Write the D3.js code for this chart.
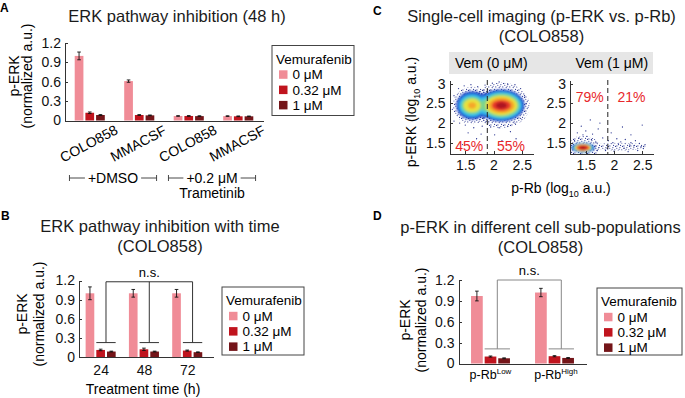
<!DOCTYPE html>
<html lang="en">
<head>
<meta charset="utf-8" />
<title>ERK pathway inhibition</title>
<style>
  body { margin: 0; background: #fff; }
  svg { font-family: "Liberation Sans", Arial, sans-serif; }
  .axis path, .axis line { fill: none; stroke: #333; shape-rendering: crispEdges; }
  .axis text { font-size: 14px; fill: #111; font-family: "Liberation Sans", Arial, sans-serif; }
</style>
</head>
<body>
<div id="chart"></div>
<script src="https://d3js.org/d3.v7.min.js"></script>
<script>
// shared
var doses = ["0 μM", "0.32 μM", "1 μM"];
var doseColors = ["#f08c97", "#c0141e", "#741519"];
var yTicks = [0, 0.3, 0.6, 0.9, 1.2];

// panel A (48 h)
var cellLines = ["COLO858", "MMACSF", "COLO858", "MMACSF"];
var meanA = [[1.0, 0.12, 0.085], [0.61, 0.085, 0.08], [0.07, 0.07, 0.068], [0.068, 0.065, 0.065]];
var errA = [[0.06, 0.012, 0.006], [0.018, 0.006, 0.005], [0.005, 0.006, 0.005], [0.005, 0.005, 0.004]];
var treatLabels = ["+DMSO", "+0.2 μM"];
var treatSub = ["", "Trametinib"];

// panel B (time course)
var timesB = ["24", "48", "72"];
var meanB = [[1.0, 0.115, 0.09], [1.0, 0.125, 0.09], [1.0, 0.105, 0.08]];
var errB = [[0.1, 0.012, 0.006], [0.06, 0.018, 0.006], [0.06, 0.008, 0.005]];

// panel D (sub-populations)
var popsD = ["Low", "High"];
var meanD = [[0.97, 0.1, 0.075], [1.02, 0.105, 0.08]];
var errD = [[0.07, 0.008, 0.006], [0.06, 0.008, 0.006]];

// panel C (single cell, log10 units)
var vemPanels = ["Vem (0 μM)", "Vem (1 μM)"];
var cTicks = [1.5, 2, 2.5];
var cYTicks = [1.5, 2, 2.5, 3];
var rbCut = 1.89;
var pctLow = ["45%", "79%"];
var pctHigh = ["55%", "21%"];
// density contours: centre and radii from outer (sparse) to inner (densest)
var densityVem0 = [
  { cx: 1.62, cy: 2.45, rx: [0.34, 0.28, 0.25, 0.22, 0.19, 0.15, 0.07], ry: [0.48, 0.36, 0.31, 0.27, 0.22, 0.17, 0.08] },
  { cx: 1.88, cy: 2.45, rx: [0.3, 0.26, 0.22, 0.18, 0.13], ry: [0.42, 0.32, 0.27, 0.22, 0.15] },
  { cx: 2.14, cy: 2.45, rx: [0.5, 0.41, 0.38, 0.35, 0.32, 0.28, 0.23, 0.17, 0.1], ry: [0.58, 0.41, 0.37, 0.34, 0.3, 0.25, 0.2, 0.14, 0.08] }
];
var densityVem1 = [
  { cx: 2.1, cy: 1.4, rx: [0.47], ry: [0.1] },
  { cx: 1.45, cy: 1.37, rx: [0.3, 0.21, 0.19, 0.17, 0.155, 0.14, 0.125, 0.105, 0.06], ry: [0.3, 0.13, 0.12, 0.11, 0.1, 0.09, 0.08, 0.068, 0.04] }
];
var dotsVem0 = [[1.3, 2.05], [1.27, 2.35], [1.3, 2.7], [1.38, 2.88], [1.48, 2.95], [1.6, 2.98], [1.72, 2.93], [1.85, 2.97],
  [1.98, 3.02], [2.1, 3.05], [2.25, 3.0], [2.38, 2.98], [2.48, 2.88], [2.55, 2.7], [2.58, 2.5], [2.55, 2.3], [2.48, 2.12],
  [2.38, 2.0], [2.25, 1.92], [2.1, 1.88], [1.95, 1.9], [1.8, 1.92], [1.65, 1.88], [1.5, 1.95], [1.4, 2.0], [1.55, 1.75],
  [1.78, 1.72], [2.02, 1.7], [2.3, 1.78], [1.7, 1.6], [2.15, 1.55], [1.45, 1.45], [2.4, 1.6], [1.9, 2.0]];
var dotsVem1 = [[1.3, 1.55], [1.38, 1.62], [1.45, 1.7], [1.52, 1.66], [1.6, 1.58], [1.35, 1.75], [1.5, 1.8], [1.42, 1.92],
  [1.62, 1.72], [1.28, 1.45], [1.68, 1.5], [1.58, 2.08], [1.72, 1.85], [1.8, 1.62], [1.9, 1.55], [1.98, 1.5], [2.05, 1.6],
  [2.12, 1.52], [2.2, 1.58], [2.3, 1.5], [2.38, 1.55], [2.45, 1.48], [2.52, 1.35], [2.55, 1.45], [1.85, 1.3], [2.0, 1.28],
  [2.25, 1.27], [2.42, 1.3], [1.95, 1.75], [2.3, 1.7], [2.5, 1.95], [2.15, 1.9], [1.75, 2.0], [1.88, 1.35], [2.35, 1.42],
  [2.48, 1.4], [1.7, 1.3], [2.08, 1.45], [2.18, 1.36], [2.28, 1.44]];

var jet = ["#28338f", "#2344c6", "#2b86e3", "#37c2e8", "#7bd58e", "#e9e23c", "#f5a72b", "#e83a2a", "#ad1622"];

var svg = d3.select("#chart").append("svg").attr("width", 685).attr("height", 398);
var fmt = d3.format("~g");
var defs = svg.append("defs");

function letter(t, x, y) {
    svg.append("text").attr("x", x).attr("y", y).text(t)
       .style("font-weight", "bold").style("font-size", "12px");
}

function titleLines(lines, cx, y0) {
    lines.forEach(function (s, i) {
        svg.append("text").attr("x", cx).attr("y", y0 + i * 20).text(s)
           .style("text-anchor", "middle").style("font-size", "16.5px").style("fill", "#1a1a1a");
    });
}

function yLabel(x1, x2, cy) {
    svg.append("text").attr("transform", "translate(" + x1 + "," + cy + ") rotate(-90)")
       .attr("dy", "0.35em").style("text-anchor", "middle").style("font-size", "14px").text("p-ERK");
    svg.append("text").attr("transform", "translate(" + x2 + "," + cy + ") rotate(-90)")
       .attr("dy", "0.35em").style("text-anchor", "middle").style("font-size", "14px").text("(normalized a.u.)");
}

function legend(x, y, w, h) {
    var g = svg.append("g").attr("transform", "translate(" + x + "," + y + ")");
    g.append("rect").attr("width", w).attr("height", h).style("fill", "#fff").style("stroke", "#444");
    g.append("text").attr("x", 4).attr("y", 13.5).attr("dy", "0.35em").text("Vemurafenib").style("font-size", "13.5px");
    doses.forEach(function (d, j) {
        g.append("rect").attr("x", 7).attr("y", 29 + j * 15.3 - 4.2).attr("width", 8.5).attr("height", 8.5)
         .style("fill", doseColors[j]);
        g.append("text").attr("x", 20.5).attr("y", 29 + j * 15.3).attr("dy", "0.35em").text(d).style("font-size", "13.5px");
    });
}

function barPanel(cfg) {
    var x = d3.scaleLinear().domain(cfg.xDomain).range(cfg.xRange);
    var y = d3.scaleLinear().domain([0, 1.2]).range(cfg.yRange);
    var g = svg.append("g");
    var bwPx = x(cfg.bw) - x(0);
    cfg.means.forEach(function (row, i) {
        var items = row.map(function (v, j) { return { v: v, e: cfg.errs[i][j], c: i + 1 + (j - 1) * cfg.off, j: j }; });
        var gi = g.append("g");
        gi.selectAll("rect").data(items).enter().append("rect")
          .attr("x", function (d) { return x(d.c) - bwPx / 2; })
          .attr("width", bwPx)
          .attr("y", function (d) { return y(d.v); })
          .attr("height", function (d) { return y(0) - y(d.v); })
          .style("fill", function (d) { return doseColors[d.j]; });
        var eb = gi.selectAll("g.err").data(items).enter().append("g").attr("class", "err")
          .style("stroke", "#111").style("stroke-width", 0.9);
        eb.append("line").attr("x1", function (d) { return x(d.c); }).attr("x2", function (d) { return x(d.c); })
          .attr("y1", function (d) { return y(d.v - d.e); }).attr("y2", function (d) { return y(d.v + d.e); });
        [-1, 1].forEach(function (s) {
            eb.append("line").attr("x1", function (d) { return x(d.c) - 1.8; }).attr("x2", function (d) { return x(d.c) + 1.8; })
              .attr("y1", function (d) { return y(d.v + s * d.e); }).attr("y2", function (d) { return y(d.v + s * d.e); });
        });
    });
    g.append("g").attr("class", "axis").attr("transform", "translate(" + cfg.xRange[0] + ",0)")
     .call(d3.axisLeft(y).tickValues(yTicks).tickFormat(fmt).tickSizeInner(-3).tickSizeOuter(0).tickPadding(4));
    var xa = d3.axisBottom(x).tickSize(0).tickPadding(8);
    if (cfg.xLabels) {
        xa.tickValues(cfg.xLabels.map(function (d, i) { return i + 1; })).tickFormat(function (d) { return cfg.xLabels[d - 1]; });
    } else {
        xa.tickValues([]);
    }
    g.append("g").attr("class", "axis").attr("transform", "translate(0," + cfg.yRange[0] + ")").call(xa);
    return { x: x, y: y, g: g };
}

function nsBracket(p, n, top, stub, off, bw, color) {
    var g = p.g.append("g").style("stroke", color).style("stroke-width", 1).style("fill", "none");
    var pairs = d3.range(1, n + 1).map(function (i) { return i + off / 2; });
    pairs.forEach(function (c) {
        g.append("line").attr("x1", p.x(c - off / 2 - bw / 2)).attr("x2", p.x(c + off / 2 + bw / 2))
         .attr("y1", p.y(stub)).attr("y2", p.y(stub));
        g.append("line").attr("x1", p.x(c)).attr("x2", p.x(c)).attr("y1", p.y(stub)).attr("y2", p.y(top));
    });
    g.append("line").attr("x1", p.x(pairs[0])).attr("x2", p.x(pairs[pairs.length - 1]))
     .attr("y1", p.y(top)).attr("y2", p.y(top));
    p.g.append("text").attr("x", p.x((pairs[0] + pairs[pairs.length - 1]) / 2)).attr("y", p.y(top) - 5)
     .style("text-anchor", "middle").style("font-size", "13px").text("n.s.");
}

// ---------- A ----------
letter("A", 0, 12);
titleLines(["ERK pathway inhibition (48 h)"], 177, 22);
var pA = barPanel({ means: meanA, errs: errA, xDomain: [0.5, 4.5], xRange: [65, 263], yRange: [120.5, 43], off: 0.216, bw: 0.176 });
yLabel(14, 27, 76);
cellLines.forEach(function (d, i) {
    pA.g.append("text").attr("transform", "translate(" + (pA.x(i + 1) - 1) + ",143.5) rotate(-28)")
      .attr("dy", "0.35em").style("text-anchor", "middle").style("font-size", "14px").text(d);
});
treatLabels.forEach(function (d, k) {
    var x1 = pA.x(2 * k + 1 - 0.41), x2 = pA.x(2 * k + 2 + 0.35), yy = 178;
    var t = pA.g.append("text").attr("x", (x1 + x2) / 2).attr("y", yy).attr("dy", "0.35em")
      .style("text-anchor", "middle").style("font-size", "14px").text(d);
    var tw = t.node().getComputedTextLength();
    var lg = pA.g.append("g").style("stroke", "#333").style("stroke-width", 0.9);
    lg.append("line").attr("x1", x1).attr("x2", (x1 + x2) / 2 - tw / 2 - 3).attr("y1", yy).attr("y2", yy);
    lg.append("line").attr("x1", (x1 + x2) / 2 + tw / 2 + 3).attr("x2", x2).attr("y1", yy).attr("y2", yy);
    lg.append("line").attr("x1", x1).attr("x2", x1).attr("y1", yy - 3).attr("y2", yy + 3);
    lg.append("line").attr("x1", x2).attr("x2", x2).attr("y1", yy - 3).attr("y2", yy + 3);
    if (treatSub[k]) {
        pA.g.append("text").attr("x", (x1 + x2) / 2).attr("y", yy + 15).attr("dy", "0.35em")
          .style("text-anchor", "middle").style("font-size", "14px").text(treatSub[k]);
    }
});
legend(272, 45.5, 82, 70);

// ---------- B ----------
letter("B", 1, 220);
titleLines(["ERK pathway inhibition with time", "(COLO858)"], 160, 232);
var pB = barPanel({ means: meanB, errs: errB, xDomain: [0.5, 3.6], xRange: [79, 213.2], yRange: [357.3, 280.5],
                    off: 0.247, bw: 0.2, xLabels: timesB });
nsBracket(pB, 3, 1.18, 0.23, 0.247, 0.2, "#333");
yLabel(22, 39, 314);
svg.append("text").attr("x", 143).attr("y", 389).attr("dy", "0.35em").style("text-anchor", "middle")
   .style("font-size", "14px").text("Treatment time (h)");
legend(222, 287, 82, 68);

// ---------- D ----------
letter("D", 373, 220);
titleLines(["p-ERK in different cell sub-populations", "(COLO858)"], 540.5, 233);
var pD = barPanel({ means: meanD, errs: errD, xDomain: [0.5, 2.5], xRange: [458.5, 586.5], yRange: [363.5, 280],
                    off: 0.2125, bw: 0.183 });
nsBracket(pD, 2, 1.2, 0.21, 0.2125, 0.183, "#888");
yLabel(405, 421.5, 320);
popsD.forEach(function (d, i) {
    var t = pD.g.append("text").attr("x", pD.x(i + 1) + (i ? 1.5 : 0)).attr("y", 379).style("text-anchor", "middle")
      .style("font-size", "12.5px");
    t.append("tspan").text("p-Rb");
    t.append("tspan").attr("dy", -5).style("font-size", "8px").text(d);
});
legend(597, 288, 85, 67);

// ---------- C ----------
letter("C", 373, 15);
titleLines(["Single-cell imaging (p-ERK vs. p-Rb)", "(COLO858)"], 541.5, 22);
var cy = d3.scaleLinear().domain([1.21, 3.1]).range([154, 80]);
svg.append("rect").attr("x", 449).attr("y", 52).attr("width", 204).attr("height", 22).style("fill", "#e6e6e6");
defs.append("filter").attr("id", "soft").attr("x", "-20%").attr("y", "-20%").attr("width", "140%").attr("height", "140%")
    .append("feGaussianBlur").attr("stdDeviation", 1.1);
// sparse-cell speckle texture for the outer density level
var sp = defs.append("pattern").attr("id", "speckle").attr("patternUnits", "userSpaceOnUse").attr("width", 7).attr("height", 7);
[[0.8, 1.2], [3.9, 0.6], [5.8, 2.9], [2.2, 3.6], [4.6, 5.4], [0.9, 5.9], [6.5, 6.4], [3.1, 2.2]].forEach(function (d) {
    sp.append("circle").attr("cx", d[0]).attr("cy", d[1]).attr("r", 0.55).style("fill", jet[0]);
});

[densityVem0, densityVem1].forEach(function (dens, p) {
    var left = p ? 570 : 449.5;
    var cx = d3.scaleLinear().domain([1.22, 2.7]).range([left, left + 83.5]);
    var dots = p ? dotsVem1 : dotsVem0;
    defs.append("clipPath").attr("id", "clip" + p).append("rect")
        .attr("x", left).attr("y", 80).attr("width", 83.5).attr("height", 74);
    var g = svg.append("g").attr("clip-path", "url(#clip" + p + ")");
    dens.forEach(function (c) {
        g.append("ellipse").attr("cx", cx(c.cx)).attr("cy", cy(c.cy))
         .attr("rx", cx(c.cx + c.rx[0]) - cx(c.cx)).attr("ry", cy(c.cy) - cy(c.cy + c.ry[0]))
         .style("fill", "url(#speckle)");
    });
    g.selectAll("circle").data(dots).enter().append("circle")
     .attr("cx", function (d) { return cx(d[0]); }).attr("cy", function (d) { return cy(d[1]); })
     .attr("r", 0.65).style("fill", jet[0]);
    var dg = g.append("g").attr("filter", "url(#soft)");
    for (var k = 1; k < jet.length; k++) {
        dens.forEach(function (c) {
            if (k < c.rx.length) {
                dg.append("ellipse").attr("cx", cx(c.cx)).attr("cy", cy(c.cy))
                  .attr("rx", cx(c.cx + c.rx[k]) - cx(c.cx)).attr("ry", cy(c.cy) - cy(c.cy + c.ry[k]))
                  .style("fill", jet[k]);
            }
        });
    }
    svg.append("line").attr("x1", cx(rbCut)).attr("x2", cx(rbCut)).attr("y1", cy(3.1)).attr("y2", cy(1.21))
       .style("stroke", "#222").style("stroke-dasharray", "5,3").style("stroke-width", 1);
    svg.append("g").attr("class", "axis").attr("transform", "translate(" + left + ",0)")
       .call(d3.axisLeft(cy).tickValues(cYTicks).tickFormat(fmt).tickSizeInner(-3).tickSizeOuter(0).tickPadding(4));
    svg.append("g").attr("class", "axis").attr("transform", "translate(0,154)")
       .call(d3.axisBottom(cx).tickValues(cTicks).tickFormat(fmt).tickSizeInner(-3).tickSizeOuter(0).tickPadding(6));
    var py = p ? 2.67 : 1.42;
    svg.append("text").attr("x", cx(rbCut - 0.32)).attr("y", cy(py)).attr("dy", "0.35em").style("text-anchor", "middle")
       .style("font-size", "14px").style("fill", "#e8282b").text(pctLow[p]);
    svg.append("text").attr("x", cx(rbCut + 0.42)).attr("y", cy(py)).attr("dy", "0.35em").style("text-anchor", "middle")
       .style("font-size", "14px").style("fill", "#e8282b").text(pctHigh[p]);
    svg.append("text").attr("x", left + 41.75).attr("y", 63).attr("dy", "0.35em").style("text-anchor", "middle")
       .style("font-size", "14px").text(vemPanels[p]);
});

var ylc = svg.append("text").attr("transform", "translate(411.5,112) rotate(-90)").attr("dy", "0.35em")
   .style("text-anchor", "middle").style("font-size", "14px");
ylc.append("tspan").text("p-ERK (log");
ylc.append("tspan").attr("dy", 4).style("font-size", "9px").text("10");
ylc.append("tspan").attr("dy", -4).text(" a.u.)");
var xlc = svg.append("text").attr("x", 561).attr("y", 193).style("text-anchor", "middle").style("font-size", "14px");
xlc.append("tspan").text("p-Rb (log");
xlc.append("tspan").attr("dy", 4).style("font-size", "9px").text("10");
xlc.append("tspan").attr("dy", -4).text(" a.u.)");
</script>
</body>
</html>
